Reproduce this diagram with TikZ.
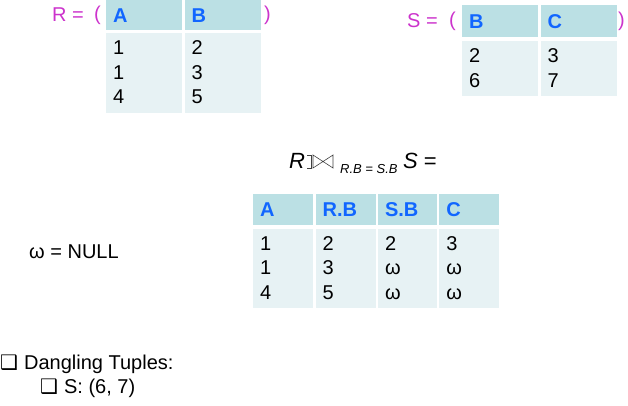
\documentclass[tikz,border=0pt]{standalone}
\usepackage{fontspec}
\setmainfont{Liberation Sans}
\newfontfamily\bulletfont{DejaVu Sans}
\usetikzlibrary{positioning}

\definecolor{headcolor}{RGB}{187,224,228}
\definecolor{bodycolor}{RGB}{231,242,244}
\definecolor{headtext}{RGB}{17,102,255}
\definecolor{relcolor}{RGB}{204,51,204}

\begin{document}
\begin{tikzpicture}[x=1pt, y=-1pt, font=\fontsize{20}{24.5}\selectfont,
	cell/.style = {anchor=north west, inner xsep=7pt, inner ysep=0pt, align=left},
	hd/.style = {cell, fill=headcolor, text=headtext, font=\fontsize{20}{24.5}\selectfont\bfseries},
	bd/.style = {cell, fill=bodycolor},
	txt/.style = {anchor=west, inner sep=0pt},
	rel/.style = {txt, text=relcolor}] 
		\useasboundingbox (0,0) rectangle (628,405);
		
		% relation R
		\node[rel] (Rname) at (52,15) {R =}; 
		\node[rel] (Ropen) at (94,15) {(}; 
		\node[rel] (Rclose) at (264,15) {)}; 
		\node[hd, text width=62pt, minimum height=30pt] (RA) at (106,0) {A}; 
		\node[hd, text width=62pt, minimum height=30pt] (RB) [right=2pt of RA] {B}; 
		\node[bd, text width=62pt, minimum height=80pt] (RAv) [below=2pt of RA] {1\\1\\4}; 
		\node[bd, text width=62pt, minimum height=80pt] (RBv) [below=2pt of RB] {2\\3\\5}; 
		
		% relation S
		\node[rel] (Sname) at (407,21) {S =}; 
		\node[rel] (Sopen) at (449,21) {(}; 
		\node[rel] (Sclose) at (618,21) {)}; 
		\node[hd, text width=62pt, minimum height=32pt] (SB) at (462,5) {B}; 
		\node[hd, text width=62pt, minimum height=32pt] (SC) [right=2pt of SB] {C}; 
		\node[bd, text width=62pt, minimum height=55pt] (SBv) [below=3pt of SB] {2\\6}; 
		\node[bd, text width=62pt, minimum height=55pt] (SCv) [below=3pt of SC] {3\\7}; 
		
		% left outer join
		\node[txt, font=\fontsize{22}{26}\selectfont\itshape] (joinR) at (289,161) {R}; 
		\draw[line width=0.6pt, black!75] (307,155) -- (311,155) -- (311,168) -- (307,168);
		\draw[line width=0.6pt, black!75] (313,155) -- (313,168) -- (333,155) -- (333,168) -- cycle;
		\node[txt, font=\fontsize{13}{15}\selectfont\itshape] (joinCond) at (340,169) {R.B = S.B}; 
		\node[txt, font=\fontsize{22}{26}\selectfont] (joinS) at (403,161) {\textit{S} =}; 
		
		% result
		\node[hd, text width=46pt, minimum height=31pt] (TA) at (253,194) {A}; 
		\node[hd, text width=46pt, minimum height=31pt] (TRB) [right=2pt of TA] {R.B}; 
		\node[hd, text width=45pt, minimum height=31pt] (TSB) [right=2pt of TRB] {S.B}; 
		\node[hd, text width=46pt, minimum height=31pt] (TC) [right=2pt of TSB] {C}; 
		\node[bd, text width=46pt, minimum height=79pt] (TAv) [below=3pt of TA] {1\\1\\4}; 
		\node[bd, text width=46pt, minimum height=79pt] (TRBv) [below=3pt of TRB] {2\\3\\5}; 
		\node[bd, text width=45pt, minimum height=79pt] (TSBv) [below=3pt of TSB] {2\\ω\\ω}; 
		\node[bd, text width=46pt, minimum height=79pt] (TCv) [below=3pt of TC] {3\\ω\\ω}; 
		
		\node[txt] (null) at (29,252) {ω = NULL}; 
		
		% dangling tuples
		\node[txt] (dangling) at (0,364) {{\bulletfont\fontsize{20}{24}\selectfont ❑}\hspace{6pt}Dangling Tuples:}; 
		\node[txt] (dangS) at (40,388) {{\bulletfont\fontsize{20}{24}\selectfont ❑}\hspace{6pt}S: (6, 7)}; 
	\end{tikzpicture}
\end{document}
